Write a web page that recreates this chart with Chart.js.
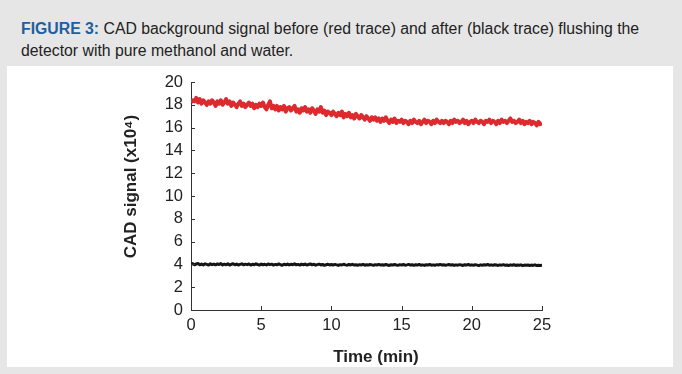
<!DOCTYPE html>
<html>
<head>
<meta charset="utf-8">
<script src="https://cdn.jsdelivr.net/npm/chart.js@4.4.0/dist/chart.umd.min.js"></script>
<style>
  html, body { margin: 0; padding: 0; }
  body { width: 682px; height: 374px; background: #e6e6e6; position: relative; overflow: hidden; font-family: 'Liberation Sans', Arial, sans-serif; }
  #caption { position: absolute; left: 21px; top: 18px; width: 655px; font-size: 15.8px; line-height: 22px; color: #222; }
  #caption b { color: #1d5f9f; }
  #panel { position: absolute; left: 7px; top: 66px; width: 666px; height: 301px; background: #fff; }
  #wrap { position: absolute; left: 0; top: 0; width: 682px; height: 374px; }
</style>
</head>
<body>
<div id="caption"><b>FIGURE 3:</b> CAD background signal before (red trace) and after (black trace) flushing the detector with pure methanol and water.</div>
<div id="panel"></div>
<div id="wrap"><canvas id="cadChart" width="682" height="374"></canvas></div>
<script>
'use strict';
// readings every 0.125 min (8 per row = 1 min), 0 to 25 min
var stepMin = 0.125;
var beforeFlush = [
  18.2, 18.4, 18.3, 18.6, 18.2, 18.5, 18.1, 18.4,
  18.2, 18.0, 18.3, 18.1, 18.4, 18.2, 17.9, 18.3,
  18.1, 18.4, 18.0, 18.2, 18.5, 18.1, 18.3, 17.9,
  18.2, 18.0, 17.8, 18.1, 18.3, 17.9, 18.1, 17.8,
  18.0, 18.2, 17.9, 18.1, 17.7, 18.0, 17.8, 18.1,
  17.9, 18.2, 17.8, 17.6, 18.0, 18.3, 17.7, 17.9,
  17.6, 17.9, 17.5, 17.8, 17.6, 17.9, 17.4, 17.7,
  17.8, 17.5, 17.7, 17.9, 17.4, 17.6, 17.3, 17.7,
  17.5, 17.8, 17.4, 17.6, 17.3, 17.7, 17.5, 17.2,
  17.6, 17.4, 17.8, 17.3, 17.5, 17.1, 17.4, 17.3,
  17.1, 17.4, 17.2, 17.0, 17.3, 17.1, 17.4, 16.9,
  17.2, 17.0, 17.3, 16.9, 17.1, 16.8, 17.2, 17.0,
  16.8, 17.1, 16.9, 16.7, 17.0, 16.8, 16.6, 16.9,
  16.7, 16.9, 16.6, 16.8, 16.5, 16.8, 16.6, 16.9,
  16.6, 16.4, 16.7, 16.5, 16.8, 16.4, 16.6, 16.5,
  16.7, 16.4, 16.6, 16.5, 16.3, 16.6, 16.4, 16.7,
  16.5, 16.4, 16.6, 16.3, 16.5, 16.7, 16.4, 16.6,
  16.5, 16.3, 16.6, 16.4, 16.7, 16.5, 16.4, 16.6,
  16.4, 16.6, 16.5, 16.3, 16.6, 16.4, 16.7, 16.5,
  16.6, 16.4, 16.5, 16.7, 16.4, 16.6, 16.3, 16.5,
  16.6, 16.4, 16.7, 16.5, 16.4, 16.6, 16.5, 16.3,
  16.6, 16.5, 16.7, 16.4, 16.6, 16.5, 16.3, 16.6,
  16.4, 16.7, 16.5, 16.6, 16.4, 16.6, 16.8, 16.5,
  16.6, 16.4, 16.5, 16.7, 16.4, 16.6, 16.3, 16.5,
  16.4, 16.6, 16.3, 16.5, 16.4, 16.2, 16.5, 16.3,
  16.4
];
var afterFlush = [
  4.00, 4.07, 3.96, 4.04, 4.08, 3.97, 4.03, 3.95,
  4.05, 4.00, 3.94, 4.06, 3.98, 4.03, 3.96, 4.04,
  3.99, 4.07, 3.95, 4.02, 3.97, 4.05, 3.94, 4.01,
  4.06, 3.97, 4.03, 3.95, 4.00, 4.05, 3.96, 4.02,
  3.98, 4.04, 3.94, 4.01, 3.97, 4.05, 3.99, 3.94,
  4.03, 3.96, 4.01, 3.95, 4.04, 3.98, 4.02, 3.94,
  4.00, 3.96, 4.04, 3.97, 3.93, 4.02, 3.96, 4.03,
  3.95, 4.01, 3.97, 4.05, 3.96, 4.00, 3.94, 4.02,
  3.97, 4.03, 3.95, 3.99, 4.04, 3.96, 4.01, 3.93,
  3.98, 4.02, 3.95, 4.00, 3.92, 3.97, 4.01, 3.95,
  3.99, 3.94, 4.00, 3.96, 3.91, 3.98, 3.95, 4.01,
  3.96, 3.93, 3.99, 3.95, 4.01, 3.94, 3.97, 3.92,
  3.98, 3.95, 4.00, 3.93, 3.97, 3.94, 3.99, 3.96,
  3.92, 3.98, 3.95, 4.00, 3.94, 3.97, 3.93, 3.99,
  3.95, 3.91, 3.97, 3.94, 3.99, 3.95, 3.92, 3.98,
  3.94, 3.99, 3.93, 3.96, 4.00, 3.94, 3.97, 3.92,
  3.97, 3.94, 3.99, 3.93, 3.96, 3.91, 3.97, 3.95,
  3.99, 3.93, 3.96, 3.92, 3.98, 3.95, 4.00, 3.94,
  3.97, 3.92, 3.96, 3.99, 3.94, 3.97, 3.91, 3.96,
  3.93, 3.98, 3.95, 3.91, 3.97, 3.94, 3.99, 3.93,
  3.96, 3.92, 3.98, 3.94, 3.90, 3.96, 3.93, 3.97,
  3.94, 3.99, 3.93, 3.96, 3.92, 3.97, 3.94, 3.91,
  3.96, 3.93, 3.98, 3.92, 3.95, 3.90, 3.96, 3.93,
  3.97, 3.91, 3.95, 3.92, 3.96, 3.89, 3.94, 3.92,
  3.95, 3.90, 3.94, 3.91, 3.96, 3.90, 3.93, 3.91,
  3.92
];
var xTicks = [0, 5, 10, 15, 20, 25];
var yTicks = [0, 2, 4, 6, 8, 10, 12, 14, 16, 18, 20];

function toPoints(values){
  var pts = [];
  for (var i = 0; i < values.length; i++){
    pts.push({x: i * stepMin, y: values[i]});
  }
  return pts;
}

// small ticks pointing into the plot
var innerTicks = {
  id: 'innerTicks',
  afterDraw: function(chart){
    var ctx = chart.ctx;
    var xs = chart.scales.x;
    var ys = chart.scales.y;
    var area = chart.chartArea;
    ctx.save();
    ctx.strokeStyle = '#333';
    ctx.lineWidth = 1;
    ctx.beginPath();
    xTicks.forEach(function(v){
      var px = Math.round(xs.getPixelForValue(v)) + 0.5;
      ctx.moveTo(px, area.bottom);
      ctx.lineTo(px, area.bottom - 4);
    });
    yTicks.forEach(function(v){
      var py = Math.round(ys.getPixelForValue(v)) + 0.5;
      ctx.moveTo(area.left, py);
      ctx.lineTo(area.left + 4, py);
    });
    ctx.stroke();
    ctx.restore();
  }
};

var tickFont = {family: "'Liberation Sans', Arial, sans-serif", size: 16.5};
var titleFont = {family: "'Liberation Sans', Arial, sans-serif", size: 17, weight: 'bold'};

new Chart(document.getElementById('cadChart'), {
  type: 'line',
  data: {
    datasets: [{
      label: 'Before flushing',
      data: toPoints(beforeFlush),
      borderColor: '#dd2a2f',
      borderWidth: 4,
      borderJoinStyle: 'round',
      pointRadius: 0,
      tension: 0
    }, {
      label: 'After flushing',
      data: toPoints(afterFlush),
      borderColor: '#151515',
      borderWidth: 3,
      borderJoinStyle: 'round',
      pointRadius: 0,
      tension: 0
    }]
  },
  options: {
    responsive: false,
    animation: false,
    layout: {padding: {left: 116, right: 140, top: 82, bottom: 0}},
    plugins: {legend: {display: false}, tooltip: {enabled: false}},
    scales: {
      x: {
        type: 'linear',
        min: 0,
        max: 25,
        afterBuildTicks: function(scale){ scale.ticks = xTicks.map(function(v){ return {value: v}; }); },
        afterFit: function(scale){ scale.height = 64; },
        grid: {drawOnChartArea: false, drawTicks: false},
        border: {color: '#333', width: 1},
        ticks: {color: '#222', font: tickFont, padding: 6, maxRotation: 0},
        title: {display: true, text: '    Time (min)', color: '#222', font: titleFont, padding: {top: 0, bottom: 6}}
      },
      y: {
        min: 0,
        max: 20,
        afterBuildTicks: function(scale){ scale.ticks = yTicks.map(function(v){ return {value: v}; }); },
        afterFit: function(scale){ scale.width = 75; },
        grid: {drawOnChartArea: false, drawTicks: false},
        border: {color: '#333', width: 1},
        ticks: {color: '#222', font: tickFont, padding: 8},
        title: {display: true, text: '    CAD signal (x10⁴)', color: '#222', font: titleFont, padding: {top: 5, bottom: 0}}
      }
    }
  },
  plugins: [innerTicks]
});
</script>
</body>
</html>
